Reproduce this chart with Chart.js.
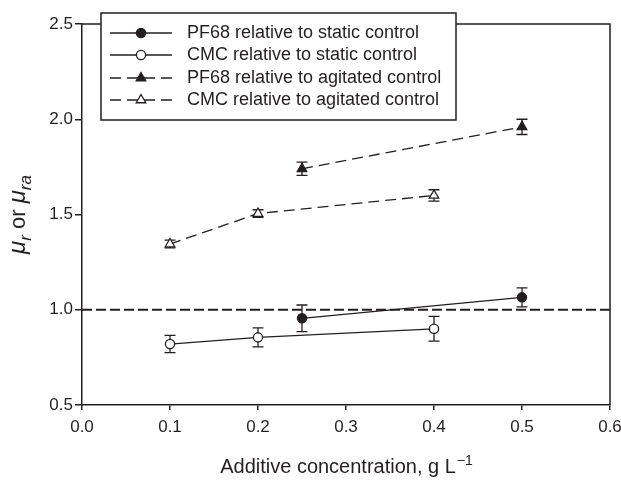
<!DOCTYPE html>
<html lang="en">
<head>
<meta charset="UTF-8">
<title>Relative viscosity</title>
<script src="https://cdn.jsdelivr.net/npm/chart.js@4.4.3/dist/chart.umd.min.js"></script>
<style>
  body { margin: 0; background: #fff; }
  #wrap { width: 621px; height: 480px; }
</style>
</head>
<body>
<div id="wrap"><canvas id="mychart"></canvas></div>
<script>
// values
var pf68X = [0.25, 0.5];
var pf68Static = [0.955, 1.065];
var pf68StaticErr = [0.07, 0.05];
var pf68Agitated = [1.74, 1.96];
var pf68AgitatedErr = [0.035, 0.04];

var cmcX = [0.1, 0.2, 0.4];
var cmcStatic = [0.82, 0.855, 0.9];
var cmcStaticErr = [0.045, 0.05, 0.065];
var cmcAgitated = [1.345, 1.505, 1.6];
var cmcAgitatedErr = [0.02, 0.02, 0.03];

// dashed reference at 1.0
var refX = [0, 0.6];
var refY = [1, 1];

var xTicks = [0, 0.1, 0.2, 0.3, 0.4, 0.5, 0.6];
var yTicks = [0.5, 1.0, 1.5, 2.0, 2.5];

var labels = [
    'PF68 relative to static control',
    'CMC relative to static control',
    'PF68 relative to agitated control',
    'CMC relative to agitated control'
];

var ink = '#231f20';
var fontFam = '"Liberation Sans", Arial, sans-serif';
Chart.defaults.font.family = fontFam;
Chart.defaults.color = ink;

function pts(xs, ys) {
    return xs.map(function (x, i) { return { x: x, y: ys[i] }; });
}

var seriesDash = [11, 6];

function series(label, xs, ys, err, style, filled, dashed) {
    return {
        label: label,
        data: pts(xs, ys),
        err: err,
        showLine: true,
        borderColor: ink,
        borderWidth: 1.3,
        borderDash: dashed ? seriesDash : [],
        pointStyle: style,
        pointRadius: style === 'triangle' ? 5.5 : 4.6,
        pointBorderWidth: 1.3,
        pointBorderColor: ink,
        pointBackgroundColor: filled ? ink : '#fff',
        fill: false
    };
}

var data = {
    datasets: [
        series(labels[0], pf68X, pf68Static, pf68StaticErr, 'circle', true, false),
        series(labels[1], cmcX, cmcStatic, cmcStaticErr, 'circle', false, false),
        series(labels[2], pf68X, pf68Agitated, pf68AgitatedErr, 'triangle', true, true),
        series(labels[3], cmcX, cmcAgitated, cmcAgitatedErr, 'triangle', false, true),
        {
            label: 'ref',
            data: pts(refX, refY),
            showLine: true,
            borderColor: ink,
            borderWidth: 1.8,
            borderDash: [10, 4],
            pointRadius: 0,
            fill: false
        }
    ]
};

// error bars, drawn under the markers
var errorBars = {
    id: 'errorBars',
    beforeDatasetsDraw: function (chart) {
        var ctx = chart.ctx, xs = chart.scales.x, ys = chart.scales.y;
        ctx.save();
        ctx.strokeStyle = ink;
        ctx.lineWidth = 1.3;
        chart.data.datasets.forEach(function (ds) {
            if (!ds.err) return;
            ds.data.forEach(function (p, i) {
                var px = xs.getPixelForValue(p.x);
                var top = ys.getPixelForValue(p.y + ds.err[i]);
                var bot = ys.getPixelForValue(p.y - ds.err[i]);
                ctx.beginPath();
                ctx.moveTo(px, top); ctx.lineTo(px, bot);
                ctx.moveTo(px - 5.5, top); ctx.lineTo(px + 5.5, top);
                ctx.moveTo(px - 5.5, bot); ctx.lineTo(px + 5.5, bot);
                ctx.stroke();
            });
        });
        ctx.restore();
    }
};

function drawMarker(ctx, ds, x, y) {
    ctx.save();
    ctx.setLineDash([]);
    ctx.lineWidth = ds.pointBorderWidth;
    ctx.strokeStyle = ds.pointBorderColor;
    ctx.fillStyle = ds.pointBackgroundColor;
    Chart.helpers.drawPoint(ctx, { pointStyle: ds.pointStyle, radius: ds.pointRadius, borderWidth: ds.pointBorderWidth }, x, y);
    ctx.restore();
}

var frameAndText = {
    id: 'frameAndText',
    afterDraw: function (chart) {
        var ctx = chart.ctx, a = chart.chartArea;
        ctx.save();
        // top and right of the frame
        ctx.strokeStyle = ink;
        ctx.lineWidth = 1.5;
        ctx.beginPath();
        ctx.moveTo(a.left, a.top);
        ctx.lineTo(a.right, a.top);
        ctx.lineTo(a.right, a.bottom);
        ctx.stroke();

        // legend box
        var lx = 101, ly = 13, lw = 355, lh = 107;
        ctx.fillStyle = '#fff';
        ctx.fillRect(lx, ly, lw, lh);
        ctx.strokeRect(lx, ly, lw, lh);
        var rows = [33, 55, 78, 100];
        ctx.font = '18px ' + fontFam;
        ctx.textBaseline = 'middle';
        ctx.textAlign = 'left';
        for (var i = 0; i < 4; i++) {
            var ds = chart.data.datasets[i];
            ctx.strokeStyle = ink;
            ctx.lineWidth = ds.borderWidth;
            ctx.setLineDash(ds.borderDash);
            ctx.beginPath();
            ctx.moveTo(110, rows[i]);
            ctx.lineTo(172, rows[i]);
            ctx.stroke();
            ctx.setLineDash([]);
            drawMarker(ctx, ds, 141, rows[i]);
            ctx.fillStyle = ink;
            ctx.fillText(ds.label, 187, rows[i]);
        }

        // x title with superscript
        var main = 'Additive concentration, g L', sup = '\u22121';
        ctx.font = '20px ' + fontFam;
        var w1 = ctx.measureText(main).width;
        ctx.font = '14px ' + fontFam;
        var w2 = ctx.measureText(sup).width;
        var sx = (a.left + a.right) / 2 - (w1 + w2) / 2;
        ctx.textBaseline = 'alphabetic';
        ctx.font = '20px ' + fontFam;
        ctx.fillText(main, sx, 473);
        ctx.font = '14px ' + fontFam;
        ctx.fillText(sup, sx + w1 + 1, 465);

        // y title: mu_r or mu_ra
        var parts = [
            { t: '\u03bc', f: 'italic 24px ', dy: 0 },
            { t: 'r', f: 'italic 17px ', dy: 6 },
            { t: ' or ', f: '22px ', dy: 0 },
            { t: '\u03bc', f: 'italic 24px ', dy: 0 },
            { t: 'ra', f: 'italic 17px ', dy: 6 }
        ];
        var total = 0;
        parts.forEach(function (p) { ctx.font = p.f + fontFam; p.w = ctx.measureText(p.t).width; total += p.w; });
        ctx.translate(25, (a.top + a.bottom) / 2);
        ctx.rotate(-Math.PI / 2);
        var cx = -total / 2;
        parts.forEach(function (p) {
            ctx.font = p.f + fontFam;
            ctx.fillText(p.t, cx, p.dy);
            cx += p.w;
        });
        ctx.restore();
    }
};

var config = {
    type: 'scatter',
    data: data,
    options: {
        responsive: true,
        maintainAspectRatio: false,
        animation: false,
        layout: { padding: { left: 0, top: 24, right: 11, bottom: 0 } },
        plugins: {
            legend: { display: false },
            tooltip: { enabled: false }
        },
        scales: {
            x: {
                type: 'linear',
                min: 0,
                max: 0.6,
                afterBuildTicks: function (s) { s.ticks = xTicks.map(function (v) { return { value: v }; }); },
                afterFit: function (s) { s.height = 75; s.paddingLeft = 0; s.paddingRight = 0; },
                ticks: {
                    font: { size: 17 },
                    color: ink,
                    padding: 7,
                    maxRotation: 0,
                    callback: function (v) { return v.toFixed(1); }
                },
                grid: { drawOnChartArea: false, drawTicks: true, tickLength: 5, lineWidth: 1.5, color: ink },
                border: { display: true, color: ink, width: 1.5 }
            },
            y: {
                type: 'linear',
                min: 0.5,
                max: 2.5,
                afterBuildTicks: function (s) { s.ticks = yTicks.map(function (v) { return { value: v }; }); },
                afterFit: function (s) { s.width = 82; s.paddingTop = 0; s.paddingBottom = 0; },
                ticks: {
                    font: { size: 17 },
                    color: ink,
                    padding: 2,
                    callback: function (v) { return v.toFixed(1); }
                },
                grid: { drawOnChartArea: false, drawTicks: true, tickLength: 7, lineWidth: 1.5, color: ink },
                border: { display: true, color: ink, width: 1.5 }
            }
        }
    },
    plugins: [errorBars, frameAndText]
};

var mychart = new Chart(document.getElementById('mychart'), config);
</script>
</body>
</html>
